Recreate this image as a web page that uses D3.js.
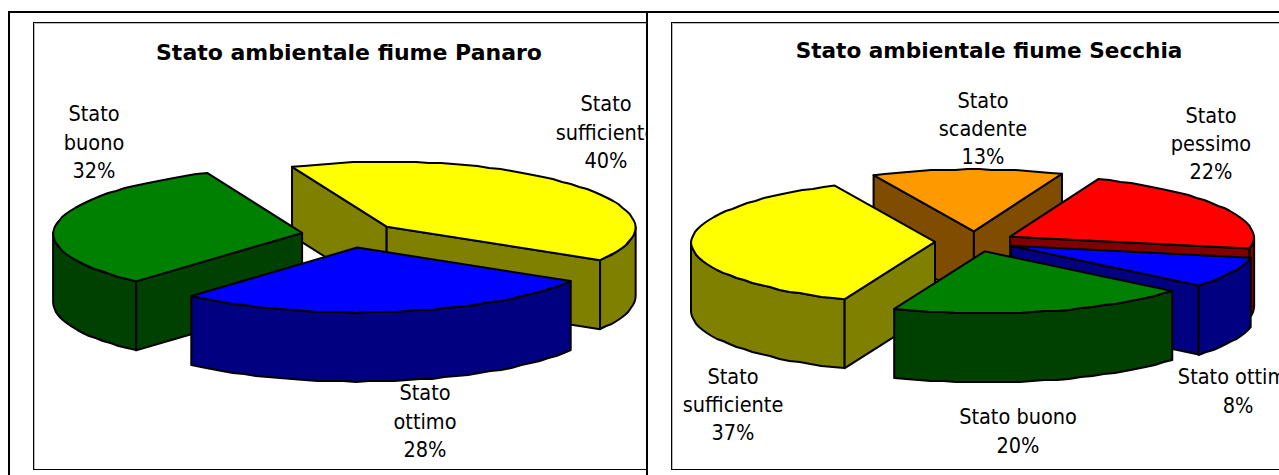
<!DOCTYPE html>
<html><head><meta charset="utf-8">
<script src="https://cdn.jsdelivr.net/npm/d3@7"></script>
<style>
html,body{margin:0;padding:0;background:#fff;overflow:hidden}
svg{display:block}
text{font-family:"DejaVu Sans Condensed","DejaVu Sans",sans-serif;font-size:21.5px;fill:#000;text-anchor:middle}
.title{font-family:"DejaVu Sans",sans-serif;font-weight:bold;font-size:22px}
</style></head><body>
<svg id="c" width="1279" height="475"></svg>
<script>
const panaroNames = ["Stato sufficiente","Stato ottimo","Stato buono"];
const panaroValues = [40,28,32];
const panaroColors = ["#ffff00","#0000ff","#008000"];
const panaroWalls  = ["#808000","#000080","#004000"];
const panaroExplode = [0.195,0.195,0.195];

const secchiaNames = ["Stato scadente","Stato pessimo","Stato ottimo","Stato buono","Stato sufficiente"];
const secchiaValues = [13,22,8,20,37];
const secchiaColors = ["#ff9900","#ff0000","#0000ff","#008000","#ffff00"];
const secchiaWalls  = ["#804c00","#800000","#000080","#004000","#808000"];
const secchiaExplode = [0.164,0.164,0.164,0.164,0.164];

const svg = d3.select("#c");
const defs = svg.append("defs");
const BACK_NARROW = 0.03;

function drawPie(o){
  defs.append("clipPath").attr("id",o.id).append("rect")
    .attr("x",o.frame[0]).attr("y",o.frame[1]).attr("width",o.frame[2]).attr("height",o.frame[3]);
  const g = svg.append("g").attr("clip-path",`url(#${o.id})`);
  g.append("rect").attr("x",o.frame[0]+.5).attr("y",o.frame[1]+.5)
    .attr("width",o.frame[2]+20).attr("height",o.frame[3]-1)
    .attr("fill","#fff").attr("stroke","#000").attr("stroke-width",1);
  g.append("path").attr("fill","none").attr("stroke","#bbb").attr("stroke-width",1)
    .attr("d",`M${o.frame[0]+1.5},${o.frame[3]+o.frame[1]-1}V${o.frame[1]+1.5}H${o.frame[0]+o.frame[2]}`);

  const pie = d3.pie().sort(null).startAngle(o.start).endAngle(o.start+2*Math.PI);
  const arcs = pie(o.values).map((a,i)=>({...a,i}));
  const sx = d3.scaleLinear().domain([-1,1]).range([o.cx-o.rx,o.cx+o.rx]);
  const sy = d3.scaleLinear().domain([-1,1]).range([o.cy-o.ry,o.cy+o.ry]);
  const line = d3.line();
  const step = 3*Math.PI/180;
  const samples = (a0,a1)=>{
    const n = Math.max(1,Math.ceil((a1-a0)/step));
    return d3.range(n+1).map(k=>a0+(a1-a0)*k/n);
  };
  o.order.forEach(idx=>{
    const d = arcs[idx];
    const mid = (d.startAngle+d.endAngle)/2, e = o.explode[idx];
    const ox = e*Math.sin(mid), oy = -e*Math.cos(mid);
    const P = (a,dz)=>{
      const narrow = 1+BACK_NARROW*Math.min(0,-Math.cos(a));
      return [sx(Math.sin(a)*narrow+ox),sy(-Math.cos(a)+oy)+dz];
    };
    // rim points land on whole pixels, like the low-resolution outline of the original
    const R = (a,dz)=>{const p=P(a,dz);return [p[0],Math.round(p[1])];};
    const A = dz=>[sx(ox),sy(oy)+dz];
    const s = g.append("g").attr("stroke","#000").attr("stroke-width",2).attr("stroke-linejoin","round");
    if(Math.sin(d.startAngle)<0){
      s.append("path").attr("fill",o.walls[idx]).attr("d",line([A(0),P(d.startAngle,0),P(d.startAngle,o.depth),A(o.depth)])+"Z");
    }
    if(Math.sin(d.endAngle)>0){
      s.append("path").attr("fill",o.walls[idx]).attr("d",line([A(0),P(d.endAngle,0),P(d.endAngle,o.depth),A(o.depth)])+"Z");
    }
    [0,2*Math.PI].forEach(k=>{
      const lo = Math.max(d.startAngle,Math.PI/2+k), hi = Math.min(d.endAngle,3*Math.PI/2+k);
      if(hi>lo){
        const top = samples(lo,hi).map(a=>R(a,0));
        const bot = samples(lo,hi).reverse().map(a=>R(a,o.depth));
        s.append("path").attr("fill",o.walls[idx]).attr("d",line(top.concat(bot))+"Z");
      }
    });
    const rim = samples(d.startAngle,d.endAngle).map((a,i,arr)=>(i===0||i===arr.length-1)?P(a,0):R(a,0));
    s.append("path").attr("fill",o.colors[idx]).attr("d",line([A(0),...rim])+"Z");
  });

  g.append("text").attr("class","title").attr("x",o.title[0]).attr("y",o.title[1]).style("font-size",o.title[3]+"px").text(o.title[2]);
  o.labels.forEach(l=>{
    l.lines.forEach((t,i)=>{
      g.append("text").attr("x",l.x).attr("y",l.y+i*l.lh).text(t);
    });
  });
}

drawPie({
  id:"p1",frame:[33,22,614,448],cx:350,cy:235,rx:249,ry:65,depth:69,
  start:-23*Math.PI/180,values:panaroValues,colors:panaroColors,walls:panaroWalls,explode:panaroExplode,
  order:[0,2,1],title:[349,60,"Stato ambientale fiume Panaro",22],
  labels:[
    {x:94,y:121,lh:28.5,lines:["Stato","buono",panaroValues[2]+"%"]},
    {x:606,y:111,lh:28.5,lines:["Stato","sufficiente",panaroValues[0]+"%"]},
    {x:425,y:400,lh:28.5,lines:["Stato","ottimo",panaroValues[1]+"%"]}
  ]
});
drawPie({
  id:"p2",frame:[671,22,608,448],cx:975,cy:241.5,rx:244,ry:62,depth:69,
  start:-25*Math.PI/180,values:secchiaValues,colors:secchiaColors,walls:secchiaWalls,explode:secchiaExplode,
  order:[0,1,2,4,3],title:[989,58,"Stato ambientale fiume Secchia",21.6],
  labels:[
    {x:983,y:108,lh:28,lines:["Stato","scadente",secchiaValues[0]+"%"]},
    {x:1211,y:123,lh:28,lines:["Stato","pessimo",secchiaValues[1]+"%"]},
    {x:1238,y:384,lh:29,lines:["Stato ottimo",secchiaValues[2]+"%"]},
    {x:1018,y:424,lh:29,lines:["Stato buono",secchiaValues[3]+"%"]},
    {x:733,y:384,lh:28,lines:["Stato","sufficiente",secchiaValues[4]+"%"]}
  ]
});

const frame = svg.append("g").attr("stroke","#000").attr("stroke-width",2);
frame.append("line").attr("x1",8).attr("x2",1279).attr("y1",12).attr("y2",12);
frame.append("line").attr("x1",9).attr("x2",9).attr("y1",11).attr("y2",475);
frame.append("line").attr("x1",647).attr("x2",647).attr("y1",11).attr("y2",475);
</script>
</body></html>
